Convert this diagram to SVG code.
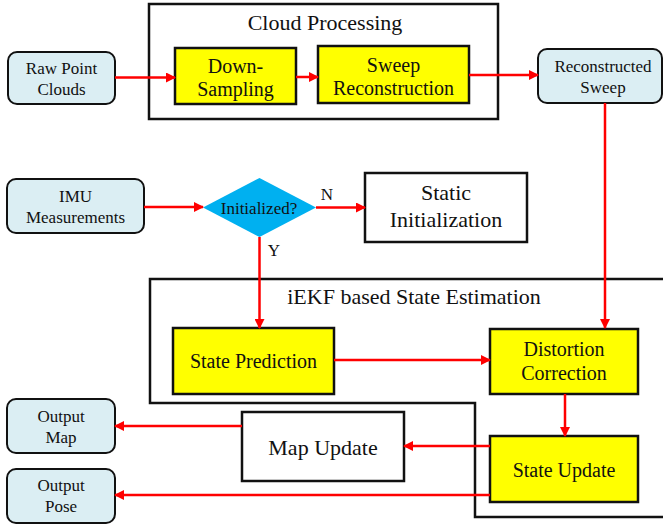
<svg xmlns="http://www.w3.org/2000/svg" width="663" height="525" viewBox="0 0 663 525">
<defs>
<marker id="ah" viewBox="0 0 10 10" refX="9" refY="5" markerWidth="4" markerHeight="4" orient="auto" markerUnits="strokeWidth">
<path d="M0,0 L10,5 L0,10 z" fill="#ff0000"/>
</marker>
<style>
text{font-family:"Liberation Serif","Times New Roman",serif;fill:#111;text-anchor:middle}
.io{fill:#dbeef3;stroke:#111;stroke-width:2}
.y{fill:#ffff00;stroke:#111;stroke-width:2.5}
.w{fill:#fff;stroke:#111;stroke-width:2.5}
.c{fill:none;stroke:#111;stroke-width:2.5}
.e{fill:none;stroke:#ff0000;stroke-width:2.5}
.a{fill:none;stroke:#ff0000;stroke-width:2.5;marker-end:url(#ah)}
.s17{font-size:17px}.s20{font-size:20px}.s22{font-size:22px}
</style>
</defs>
<rect width="663" height="525" fill="#fff"/>
<g id="cloud-processing">
<rect class="c" x="149" y="4" width="349" height="115"/>
<text class="s22" x="325" y="30">Cloud Processing</text>
</g>
<g id="iekf">
<path class="c" d="M670,279 L150,279 L150,403 L475,403 L475,517 L670,517"/>
<text class="s22" x="414" y="304">iEKF based State Estimation</text>
</g>
<g id="raw-point-clouds">
<rect class="io" x="8" y="52" width="107" height="52" rx="9"/>
<text class="s17" x="61.5" y="74">Raw Point</text>
<text class="s17" x="61.5" y="95">Clouds</text>
</g>
<g id="down-sampling">
<rect class="y" x="175" y="48" width="121" height="56"/>
<text class="s20" x="235.5" y="73">Down-</text>
<text class="s20" x="235.5" y="96">Sampling</text>
</g>
<g id="sweep-reconstruction">
<rect class="y" x="318" y="46" width="151" height="57"/>
<text class="s20" x="393.5" y="72">Sweep</text>
<text class="s20" x="393.5" y="95">Reconstruction</text>
</g>
<g id="reconstructed-sweep">
<rect class="io" x="538" y="49" width="124" height="54" rx="9"/>
<text class="s17" x="603" y="72">Reconstructed</text>
<text class="s17" x="603" y="93">Sweep</text>
</g>
<g id="imu">
<rect class="io" x="7" y="179" width="137" height="54" rx="9"/>
<text class="s17" x="75.5" y="202">IMU</text>
<text class="s17" x="75.5" y="223">Measurements</text>
</g>
<g id="initialized">
<polygon points="203,207.5 259.5,178 316,207.5 259.5,237" fill="#00b0f0"/>
<text class="s17" x="259" y="214">Initialized?</text>
</g>
<g id="static-initialization">
<rect class="w" x="365" y="173" width="162" height="69"/>
<text class="s22" x="446" y="200">Static</text>
<text class="s22" x="446" y="227">Initialization</text>
</g>
<g id="state-prediction">
<rect class="y" x="173" y="328" width="161" height="66"/>
<text class="s20" x="253.5" y="368">State Prediction</text>
</g>
<g id="distortion-correction">
<rect class="y" x="490" y="329" width="148" height="65"/>
<text class="s20" x="564" y="356">Distortion</text>
<text class="s20" x="564" y="380">Correction</text>
</g>
<g id="state-update">
<rect class="y" x="490" y="436" width="148" height="66"/>
<text class="s20" x="564" y="477">State Update</text>
</g>
<g id="map-update">
<rect class="w" x="242" y="412" width="162" height="69"/>
<text class="s22" x="323" y="455">Map Update</text>
</g>
<g id="output-map">
<rect class="io" x="7" y="399" width="108" height="54" rx="9"/>
<text class="s17" x="61" y="422">Output</text>
<text class="s17" x="61" y="443">Map</text>
</g>
<g id="output-pose">
<rect class="io" x="7" y="469" width="108" height="54" rx="9"/>
<text class="s17" x="61" y="491">Output</text>
<text class="s17" x="61" y="512">Pose</text>
</g>
<g id="connectors">
<line class="a" x1="115" y1="77.5" x2="175" y2="77.5"/>
<line class="a" x1="296" y1="77" x2="318" y2="77"/>
<line class="a" x1="469" y1="75" x2="538" y2="75"/>
<line class="a" x1="605" y1="103" x2="605" y2="328"/>
<line class="a" x1="144" y1="207" x2="203" y2="207"/>
<line class="a" x1="316" y1="207.5" x2="365" y2="207.5"/>
<text class="s17" x="327" y="200">N</text>
<line class="a" x1="259.5" y1="237" x2="259.5" y2="328"/>
<text class="s17" x="274" y="256">Y</text>
<line class="a" x1="334" y1="360" x2="490" y2="360"/>
<line class="a" x1="565" y1="394" x2="565" y2="436"/>
<line class="a" x1="490" y1="446" x2="404" y2="446"/>
<line class="a" x1="242" y1="426" x2="115" y2="426"/>
<line class="a" x1="490" y1="495" x2="115" y2="495"/>
</g>
</svg>
